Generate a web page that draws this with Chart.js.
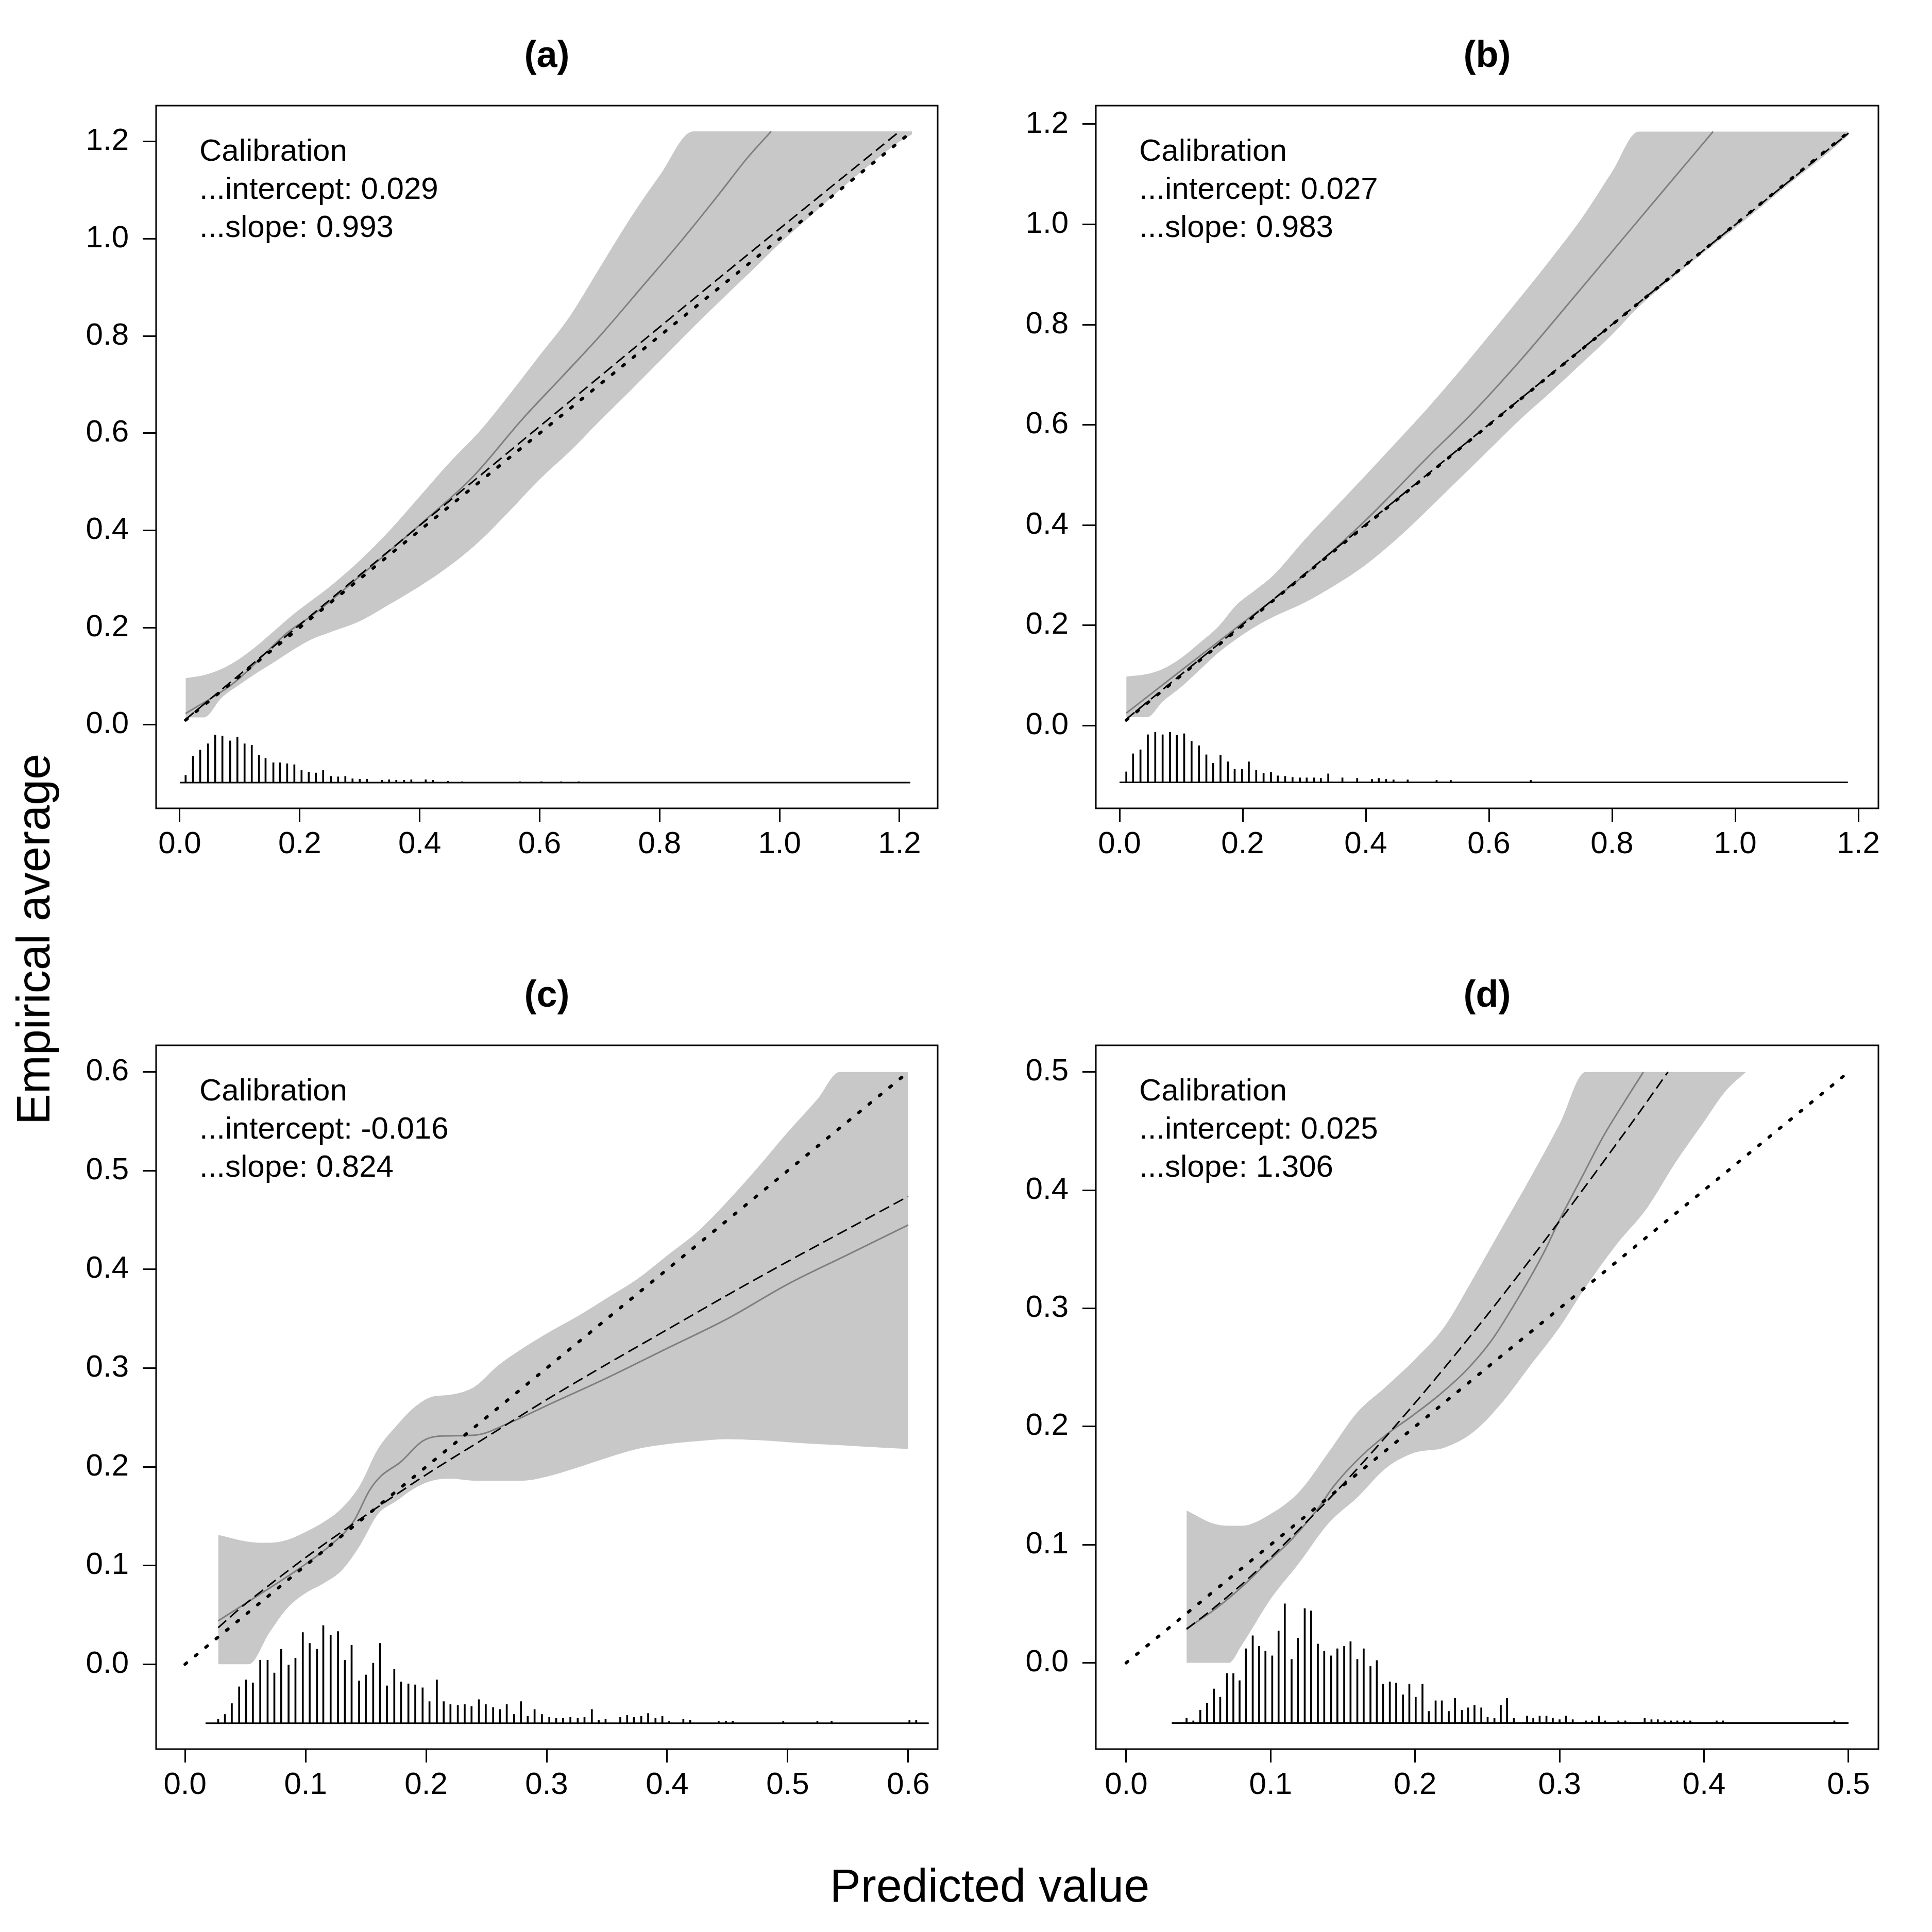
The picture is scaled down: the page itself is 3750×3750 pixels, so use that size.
<!DOCTYPE html>
<html>
<head>
<meta charset="utf-8">
<title>Calibration plots</title>
<script src="https://cdn.jsdelivr.net/npm/chart.js@4.4.1/dist/chart.umd.min.js"></script>
<style>
  html, body { margin: 0; padding: 0; background: #fff; }
  #fig { position: relative; width: 3750px; height: 3750px; font-family: "Liberation Sans", Arial, sans-serif; }
  #fig canvas { position: absolute; width: 1875px; height: 1875px; }
  .axis-title { position: absolute; font-size: 90px; line-height: 1; white-space: nowrap; color: #000; }
</style>
</head>
<body>
<div id="fig">
  <canvas id="pa" width="1875" height="1875" style="left:0;top:0"></canvas>
  <canvas id="pb" width="1875" height="1875" style="left:1875px;top:0"></canvas>
  <canvas id="pc" width="1875" height="1875" style="left:0;top:1875px"></canvas>
  <canvas id="pd" width="1875" height="1875" style="left:1875px;top:1875px"></canvas>
  <div class="axis-title" style="left:65px;top:1823px;transform:translate(-50%,-50%) rotate(-90deg)">Empirical average</div>
  <div class="axis-title" style="left:1921px;top:3660px;transform:translate(-50%,-50%)">Predicted value</div>
</div>
<script>
// ---- panel (a) ----
const aTicks = [0, 0.2, 0.4, 0.6, 0.8, 1.0, 1.2];
const aNote = ['Calibration', '...intercept: 0.029', '...slope: 0.993'];
const aBandX = [0.0097, 0.04, 0.07, 0.1, 0.13, 0.16, 0.19, 0.22, 0.25, 0.3, 0.35, 0.4, 0.45, 0.5, 0.55, 0.6, 0.65, 0.7, 0.75, 0.8, 0.856, 0.9, 0.95, 1.0, 1.05, 1.1, 1.15, 1.2, 1.221];
const aBandHi = [0.096, 0.102, 0.115, 0.136, 0.164, 0.196, 0.228, 0.256, 0.284, 0.338, 0.4, 0.47, 0.54, 0.604, 0.68, 0.76, 0.84, 0.94, 1.04, 1.13, 1.221, 1.221, 1.221, 1.221, 1.221, 1.221, 1.221, 1.221, 1.221];
const aBandLo = [0.015, 0.015, 0.056, 0.083, 0.108, 0.131, 0.155, 0.176, 0.19, 0.213, 0.248, 0.285, 0.327, 0.378, 0.44, 0.505, 0.562, 0.625, 0.686, 0.748, 0.818, 0.871, 0.93, 0.99, 1.045, 1.1, 1.152, 1.2, 1.215];
const aCurveX = [0.0097, 0.09, 0.18, 0.223, 0.309, 0.408, 0.487, 0.572, 0.638, 0.704, 0.77, 0.835, 0.901, 0.946, 0.986];
const aCurveY = [0.023, 0.086, 0.19, 0.227, 0.315, 0.42, 0.508, 0.63, 0.717, 0.805, 0.9, 0.994, 1.095, 1.166, 1.221];
const aLineX = [0.0097, 0.3, 0.6, 0.9, 1.2];
const aLineY = [0.011, 0.308, 0.614, 0.92, 1.221];
const aIdealX = [0.0097, 1.221];
const aIdealY = [0.0097, 1.221];
const aHistX = [0.0097, 0.022, 0.034, 0.047, 0.059, 0.071, 0.084, 0.096, 0.108, 0.12, 0.132, 0.143, 0.156, 0.167, 0.179, 0.191, 0.203, 0.215, 0.227, 0.239, 0.252, 0.264, 0.276, 0.288, 0.3, 0.312, 0.337, 0.349, 0.361, 0.374, 0.386, 0.41, 0.422, 0.447, 0.471, 0.567, 0.603, 0.636, 0.665];
const aHistH = [0.015, 0.054, 0.067, 0.08, 0.098, 0.096, 0.086, 0.094, 0.08, 0.077, 0.056, 0.05, 0.041, 0.041, 0.039, 0.037, 0.025, 0.021, 0.02, 0.025, 0.013, 0.012, 0.013, 0.008, 0.007, 0.007, 0.005, 0.006, 0.005, 0.005, 0.006, 0.006, 0.005, 0.003, 0.002, 0.002, 0.002, 0.002, 0.002];
const aHistBase = -0.119;
const aHistSpan = [0, 1.218];

// ---- panel (b) ----
const bTicks = [0, 0.2, 0.4, 0.6, 0.8, 1.0, 1.2];
const bNote = ['Calibration', '...intercept: 0.027', '...slope: 0.983'];
const bBandX = [0.011, 0.045, 0.07, 0.1, 0.13, 0.16, 0.19, 0.22, 0.25, 0.3, 0.35, 0.4, 0.45, 0.5, 0.55, 0.6, 0.65, 0.7, 0.75, 0.8, 0.843, 0.9, 0.95, 1.0, 1.05, 1.1, 1.15, 1.184];
const bBandHi = [0.098, 0.103, 0.113, 0.135, 0.165, 0.197, 0.241, 0.27, 0.3, 0.37, 0.435, 0.5, 0.566, 0.633, 0.704, 0.778, 0.853, 0.93, 1.011, 1.105, 1.185, 1.185, 1.185, 1.185, 1.185, 1.185, 1.185, 1.185];
const bBandLo = [0.017, 0.017, 0.048, 0.077, 0.111, 0.145, 0.173, 0.197, 0.217, 0.245, 0.28, 0.321, 0.372, 0.43, 0.49, 0.55, 0.61, 0.665, 0.722, 0.78, 0.835, 0.895, 0.945, 0.993, 1.043, 1.093, 1.142, 1.178];
const bCurveX = [0.011, 0.1, 0.2, 0.3, 0.4, 0.5, 0.574, 0.652, 0.73, 0.807, 0.885, 0.964];
const bCurveY = [0.025, 0.11, 0.205, 0.3, 0.41, 0.535, 0.625, 0.73, 0.843, 0.956, 1.07, 1.185];
const bLineX = [0.011, 0.3, 0.6, 0.9, 1.184];
const bLineY = [0.013, 0.302, 0.601, 0.9, 1.182];
const bIdealX = [0.011, 1.184];
const bIdealY = [0.011, 1.184];
const bHistX = [0.011, 0.022, 0.034, 0.046, 0.058, 0.07, 0.082, 0.093, 0.105, 0.117, 0.129, 0.141, 0.152, 0.164, 0.176, 0.187, 0.199, 0.21, 0.222, 0.234, 0.246, 0.257, 0.269, 0.281, 0.293, 0.304, 0.316, 0.327, 0.339, 0.362, 0.386, 0.41, 0.421, 0.433, 0.445, 0.468, 0.515, 0.538, 0.668];
const bHistH = [0.021, 0.057, 0.065, 0.095, 0.1, 0.095, 0.1, 0.094, 0.097, 0.082, 0.073, 0.055, 0.038, 0.054, 0.041, 0.026, 0.026, 0.041, 0.024, 0.018, 0.02, 0.013, 0.012, 0.01, 0.009, 0.009, 0.009, 0.008, 0.017, 0.009, 0.008, 0.006, 0.008, 0.006, 0.005, 0.005, 0.004, 0.004, 0.004];
const bHistBase = -0.113;
const bHistSpan = [0, 1.183];

// ---- panel (c) ----
const cTicks = [0, 0.1, 0.2, 0.3, 0.4, 0.5, 0.6];
const cNote = ['Calibration', '...intercept: -0.016', '...slope: 0.824'];
const cBandX = [0.0275, 0.053, 0.07, 0.085, 0.1, 0.115, 0.13, 0.145, 0.16, 0.175, 0.19, 0.205, 0.22, 0.24, 0.26, 0.28, 0.3, 0.325, 0.35, 0.375, 0.4, 0.425, 0.45, 0.475, 0.5, 0.525, 0.543, 0.57, 0.6];
const cBandHi = [0.131, 0.124, 0.123, 0.126, 0.134, 0.144, 0.158, 0.181, 0.218, 0.241, 0.26, 0.271, 0.273, 0.281, 0.303, 0.32, 0.335, 0.352, 0.371, 0.39, 0.414, 0.438, 0.469, 0.503, 0.539, 0.573, 0.6, 0.6, 0.6];
const cBandLo = [0, 0, 0.032, 0.057, 0.072, 0.082, 0.095, 0.12, 0.152, 0.165, 0.178, 0.186, 0.188, 0.186, 0.186, 0.186, 0.19, 0.199, 0.209, 0.218, 0.223, 0.226, 0.228, 0.227, 0.225, 0.223, 0.222, 0.22, 0.218];
const cCurveX = [0.0275, 0.061, 0.096, 0.123, 0.14, 0.153, 0.162, 0.179, 0.197, 0.21, 0.24, 0.27, 0.3, 0.35, 0.4, 0.45, 0.5, 0.55, 0.6];
const cCurveY = [0.044, 0.07, 0.098, 0.123, 0.145, 0.176, 0.19, 0.205, 0.226, 0.231, 0.232, 0.245, 0.262, 0.29, 0.32, 0.35, 0.385, 0.415, 0.445];
const cLineX = [0.0275, 0.05, 0.1, 0.15, 0.2, 0.25, 0.3, 0.35, 0.4, 0.45, 0.5, 0.55, 0.6];
const cLineY = [0.037, 0.061, 0.108, 0.151, 0.192, 0.23, 0.268, 0.304, 0.339, 0.374, 0.408, 0.441, 0.474];
const cIdealX = [0, 0.6];
const cIdealY = [0, 0.6];
const cHistX = [0.0275, 0.0331, 0.0388, 0.0449, 0.0506, 0.0563, 0.0624, 0.0685, 0.0741, 0.0798, 0.0859, 0.0916, 0.0977, 0.1034, 0.1095, 0.1147, 0.1208, 0.1269, 0.1326, 0.1382, 0.1444, 0.15, 0.1561, 0.1618, 0.1675, 0.1736, 0.1792, 0.1853, 0.191, 0.1971, 0.2028, 0.2089, 0.2146, 0.2202, 0.2263, 0.232, 0.2377, 0.2438, 0.2495, 0.2556, 0.2612, 0.2669, 0.273, 0.2787, 0.2843, 0.29, 0.2961, 0.3022, 0.3079, 0.3136, 0.3197, 0.3258, 0.3314, 0.3375, 0.3432, 0.3489, 0.3611, 0.3668, 0.3724, 0.3785, 0.3842, 0.3903, 0.396, 0.4017, 0.4134, 0.4191, 0.4427, 0.4488, 0.4544, 0.4963, 0.5246, 0.5364, 0.601, 0.6066];
const cHistH = [0.004, 0.009, 0.02, 0.037, 0.044, 0.041, 0.064, 0.064, 0.051, 0.075, 0.059, 0.066, 0.092, 0.081, 0.075, 0.099, 0.089, 0.093, 0.064, 0.079, 0.043, 0.049, 0.061, 0.081, 0.038, 0.055, 0.042, 0.04, 0.039, 0.036, 0.022, 0.044, 0.022, 0.019, 0.018, 0.019, 0.017, 0.024, 0.019, 0.016, 0.014, 0.019, 0.009, 0.022, 0.007, 0.014, 0.009, 0.006, 0.005, 0.005, 0.006, 0.005, 0.006, 0.014, 0.003, 0.004, 0.006, 0.008, 0.006, 0.007, 0.01, 0.005, 0.007, 0.002, 0.004, 0.003, 0.002, 0.002, 0.002, 0.002, 0.002, 0.002, 0.003, 0.003];
const cHistBase = -0.0598;
const cHistSpan = [0.017, 0.617];

// ---- panel (d) ----
const dTicks = [0, 0.1, 0.2, 0.3, 0.4, 0.5];
const dNote = ['Calibration', '...intercept: 0.025', '...slope: 1.306'];
const dBandX = [0.0418, 0.06, 0.071, 0.08, 0.1, 0.12, 0.14, 0.16, 0.18, 0.2, 0.22, 0.24, 0.26, 0.28, 0.3, 0.318, 0.34, 0.36, 0.38, 0.4, 0.415, 0.429];
const dBandHi = [0.129, 0.118, 0.116, 0.116, 0.126, 0.145, 0.178, 0.212, 0.234, 0.257, 0.284, 0.325, 0.368, 0.411, 0.456, 0.5, 0.5, 0.5, 0.5, 0.5, 0.5, 0.5];
const dBandLo = [0, 0, 0, 0.015, 0.054, 0.085, 0.118, 0.14, 0.165, 0.178, 0.182, 0.195, 0.22, 0.252, 0.284, 0.318, 0.355, 0.384, 0.423, 0.458, 0.484, 0.5];
const dCurveX = [0.0418, 0.06, 0.078, 0.096, 0.115, 0.133, 0.144, 0.162, 0.18, 0.198, 0.216, 0.235, 0.253, 0.271, 0.289, 0.3, 0.315, 0.33, 0.345, 0.358];
const dCurveY = [0.029, 0.044, 0.062, 0.083, 0.105, 0.131, 0.15, 0.174, 0.193, 0.209, 0.226, 0.247, 0.273, 0.308, 0.347, 0.375, 0.41, 0.445, 0.475, 0.5];
const dLineX = [0.0418, 0.06, 0.08, 0.1, 0.15, 0.2, 0.25, 0.3, 0.35, 0.375];
const dLineY = [0.0285, 0.0457, 0.0664, 0.089, 0.151, 0.22, 0.2945, 0.374, 0.457, 0.5];
const dIdealX = [0, 0.5];
const dIdealY = [0, 0.5];
const dHistX = [0.0418, 0.0465, 0.0513, 0.056, 0.0607, 0.0651, 0.0698, 0.0742, 0.0785, 0.0829, 0.0876, 0.092, 0.0964, 0.1011, 0.1055, 0.1098, 0.1145, 0.1189, 0.1236, 0.128, 0.1327, 0.1371, 0.1418, 0.1462, 0.1509, 0.1553, 0.16, 0.1644, 0.1691, 0.1735, 0.1778, 0.1825, 0.1869, 0.1916, 0.196, 0.2004, 0.2051, 0.2095, 0.2142, 0.2185, 0.2233, 0.2276, 0.2324, 0.2367, 0.2411, 0.2458, 0.2502, 0.2549, 0.2593, 0.2636, 0.2684, 0.2775, 0.2818, 0.2862, 0.2909, 0.2953, 0.3, 0.3044, 0.3091, 0.3182, 0.3225, 0.3273, 0.3316, 0.3407, 0.3455, 0.3589, 0.3636, 0.368, 0.3727, 0.3771, 0.3815, 0.3862, 0.3905, 0.4087, 0.4131, 0.4902];
const dHistH = [0.004, 0.002, 0.011, 0.017, 0.029, 0.022, 0.042, 0.042, 0.036, 0.063, 0.074, 0.065, 0.061, 0.057, 0.078, 0.101, 0.054, 0.072, 0.097, 0.095, 0.067, 0.061, 0.057, 0.063, 0.065, 0.069, 0.054, 0.063, 0.048, 0.053, 0.033, 0.035, 0.034, 0.024, 0.033, 0.022, 0.033, 0.01, 0.019, 0.019, 0.01, 0.021, 0.011, 0.013, 0.015, 0.013, 0.005, 0.004, 0.015, 0.021, 0.004, 0.006, 0.004, 0.006, 0.006, 0.004, 0.003, 0.006, 0.003, 0.002, 0.002, 0.006, 0.002, 0.002, 0.002, 0.004, 0.003, 0.003, 0.002, 0.002, 0.002, 0.002, 0.002, 0.002, 0.002, 0.002];
const dHistBase = -0.051;
const dHistSpan = [0.0316, 0.5];

const FONT = '"Liberation Sans", Arial, sans-serif';
const SIZE = 1875;

Chart.defaults.font.family = FONT;
Chart.defaults.font.size = 60;
Chart.defaults.color = '#000';

const pts = (xs, ys) => xs.map((x, i) => ({ x, y: ys[i] }));

// box, panel letter and calibration note
const frame = {
  id: 'frame',
  afterDraw(chart, args, opts) {
    const { ctx, chartArea: a } = chart;
    ctx.save();
    ctx.strokeStyle = '#000';
    ctx.lineWidth = 3;
    ctx.strokeRect(a.left, a.top, a.right - a.left, a.bottom - a.top);
    ctx.fillStyle = '#000';
    ctx.textBaseline = 'alphabetic';
    ctx.font = 'bold 72px ' + FONT;
    ctx.textAlign = 'center';
    ctx.fillText(opts.title, (a.left + a.right) / 2, a.top - 75);
    ctx.font = '60px ' + FONT;
    ctx.textAlign = 'left';
    opts.note.forEach((t, i) => ctx.fillText(t, a.left + 84, a.top + 107 + i * 74));
    ctx.restore();
  }
};

function axis(min, max, ticks, pad, fit) {
  return {
    type: 'linear',
    min, max,
    offset: false,
    beginAtZero: false,
    afterBuildTicks: s => { s.ticks = ticks.map(v => ({ value: v })); },
    afterFit: fit,
    ticks: { callback: v => v.toFixed(1), autoSkip: false, maxRotation: 0, padding: pad },
    grid: { offset: false, drawOnChartArea: false, drawTicks: true, tickLength: 26, tickWidth: 3, tickColor: '#000' },
    border: { display: false }
  };
}

function panel(id, p) {
  const area = p.area;
  new Chart(document.getElementById(id), {
    type: 'line',
    data: {
      datasets: [
        { data: pts(p.idealX, p.idealY), borderColor: '#000', borderWidth: 6, borderDash: [4, 22],
          borderCapStyle: 'round', pointRadius: 0, fill: false, order: 1 },
        { data: pts(p.lineX, p.lineY), borderColor: '#000', borderWidth: 3, borderDash: [21, 10],
          pointRadius: 0, fill: false, tension: 0.3, order: 2 },
        { data: pts(p.curveX, p.curveY), borderColor: '#7f7f7f', borderWidth: 3,
          pointRadius: 0, fill: false, cubicInterpolationMode: 'monotone', order: 3 },
        { data: pts(p.histSpan, p.histSpan.map(() => p.histBase)), borderColor: '#000', borderWidth: 3,
          pointRadius: 0, fill: false, order: 4 },
        { type: 'bar', data: p.histX.map((x, i) => ({ x, y: [p.histBase, p.histBase + p.histH[i]] })),
          backgroundColor: '#000', borderWidth: 0, barThickness: 3, grouped: false, order: 5 },
        { data: pts(p.bandX, p.bandHi), borderWidth: 0, borderColor: 'rgba(0,0,0,0)', backgroundColor: '#c8c8c8',
          pointRadius: 0, fill: '+1', cubicInterpolationMode: 'monotone', order: 6 },
        { data: pts(p.bandX, p.bandLo), borderWidth: 0, borderColor: 'rgba(0,0,0,0)', backgroundColor: '#c8c8c8',
          pointRadius: 0, fill: false, cubicInterpolationMode: 'monotone', order: 7 }
      ]
    },
    options: {
      responsive: false,
      devicePixelRatio: 1,
      animation: false,
      events: [],
      layout: { padding: { left: 0, top: area.top, right: SIZE - area.right, bottom: 0 } },
      plugins: {
        legend: { display: false },
        tooltip: { enabled: false },
        frame: { title: p.title, note: p.note }
      },
      scales: {
        x: axis(p.xRange[0], p.xRange[1], p.ticks, 8, s => { s.height = SIZE - area.bottom; }),
        y: axis(p.yRange[0], p.yRange[1], p.ticks, 27, s => { s.width = area.left; })
      }
    },
    plugins: [frame]
  });
}

panel('pa', {
  title: '(a)', note: aNote, ticks: aTicks,
  xRange: [-0.0395, 1.2636], yRange: [-0.172, 1.274],
  area: { left: 303, top: 205, right: 1820, bottom: 1569 },
  bandX: aBandX, bandHi: aBandHi, bandLo: aBandLo, curveX: aCurveX, curveY: aCurveY,
  lineX: aLineX, lineY: aLineY, idealX: aIdealX, idealY: aIdealY,
  histX: aHistX, histH: aHistH, histBase: aHistBase, histSpan: aHistSpan
});
panel('pb', {
  title: '(b)', note: bNote, ticks: bTicks,
  xRange: [-0.0385, 1.2326], yRange: [-0.165, 1.237],
  area: { left: 252, top: 205, right: 1771, bottom: 1569 },
  bandX: bBandX, bandHi: bBandHi, bandLo: bBandLo, curveX: bCurveX, curveY: bCurveY,
  lineX: bLineX, lineY: bLineY, idealX: bIdealX, idealY: bIdealY,
  histX: bHistX, histH: bHistH, histBase: bHistBase, histSpan: bHistSpan
});
panel('pc', {
  title: '(c)', note: cNote, ticks: cTicks,
  xRange: [-0.024, 0.6244], yRange: [-0.086, 0.627],
  area: { left: 303, top: 154, right: 1820, bottom: 1520 },
  bandX: cBandX, bandHi: cBandHi, bandLo: cBandLo, curveX: cCurveX, curveY: cCurveY,
  lineX: cLineX, lineY: cLineY, idealX: cIdealX, idealY: cIdealY,
  histX: cHistX, histH: cHistH, histBase: cHistBase, histSpan: cHistSpan
});
panel('pd', {
  title: '(d)', note: dNote, ticks: dTicks,
  xRange: [-0.021, 0.5207], yRange: [-0.073, 0.5226],
  area: { left: 252, top: 154, right: 1771, bottom: 1520 },
  bandX: dBandX, bandHi: dBandHi, bandLo: dBandLo, curveX: dCurveX, curveY: dCurveY,
  lineX: dLineX, lineY: dLineY, idealX: dIdealX, idealY: dIdealY,
  histX: dHistX, histH: dHistH, histBase: dHistBase, histSpan: dHistSpan
});
</script>
</body>
</html>
